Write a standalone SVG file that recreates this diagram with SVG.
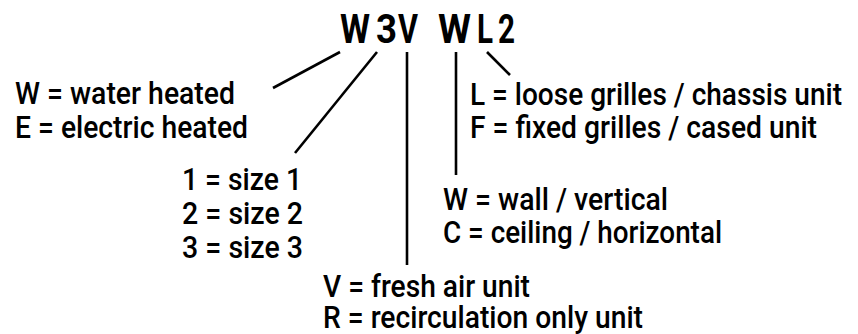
<svg xmlns="http://www.w3.org/2000/svg" width="858" height="334" viewBox="0 0 858 334">
<style>
text{font-family:Roboto,"Liberation Sans",sans-serif;font-weight:500;fill:#000;}
.t{font-size:31px;}
.h{font-size:40px;font-weight:700;}
.c line{stroke:#000;stroke-width:2.6;stroke-linecap:butt;}
</style>
<rect width="858" height="334" fill="#fff"/>
<g id="code">
<text class="h" x="340" y="43" textLength="30" lengthAdjust="spacingAndGlyphs">W</text>
<text class="h" x="376" y="43" textLength="21" lengthAdjust="spacingAndGlyphs">3</text>
<text class="h" x="398" y="43" textLength="20" lengthAdjust="spacingAndGlyphs">V</text>
<text class="h" x="438" y="43" textLength="33" lengthAdjust="spacingAndGlyphs">W</text>
<text class="h" x="477" y="43" textLength="16" lengthAdjust="spacingAndGlyphs">L</text>
<text class="h" x="498" y="43" textLength="17" lengthAdjust="spacingAndGlyphs">2</text>
</g>
<g id="heating">
<text class="t" x="15" y="104" textLength="220" lengthAdjust="spacingAndGlyphs">W = water heated</text>
<text class="t" x="15" y="138" textLength="233" lengthAdjust="spacingAndGlyphs">E = electric heated</text>
</g>
<g id="size">
<text class="t" x="182" y="190" textLength="120" lengthAdjust="spacingAndGlyphs">1 = size 1</text>
<text class="t" x="182" y="224" textLength="121" lengthAdjust="spacingAndGlyphs">2 = size 2</text>
<text class="t" x="182" y="258" textLength="121" lengthAdjust="spacingAndGlyphs">3 = size 3</text>
</g>
<g id="air">
<text class="t" x="323" y="297" textLength="207" lengthAdjust="spacingAndGlyphs">V = fresh air unit</text>
<text class="t" x="323" y="328" textLength="320" lengthAdjust="spacingAndGlyphs">R = recirculation only unit</text>
</g>
<g id="mounting">
<text class="t" x="443" y="210" textLength="225" lengthAdjust="spacingAndGlyphs">W = wall / vertical</text>
<text class="t" x="443" y="243" textLength="279" lengthAdjust="spacingAndGlyphs">C = ceiling / horizontal</text>
</g>
<g id="grilles">
<text class="t" x="470" y="105" textLength="372" lengthAdjust="spacingAndGlyphs">L = loose grilles / chassis unit</text>
<text class="t" x="470" y="138" textLength="347" lengthAdjust="spacingAndGlyphs">F = fixed grilles / cased unit</text>
</g>
<g id="connectors" class="c">
<line x1="340" y1="52" x2="273" y2="88"/>
<line x1="377" y1="52" x2="295" y2="153"/>
<line x1="407" y1="52" x2="407" y2="265"/>
<line x1="456" y1="52" x2="456" y2="175"/>
<line x1="487" y1="52" x2="510" y2="75"/>
</g>
</svg>
